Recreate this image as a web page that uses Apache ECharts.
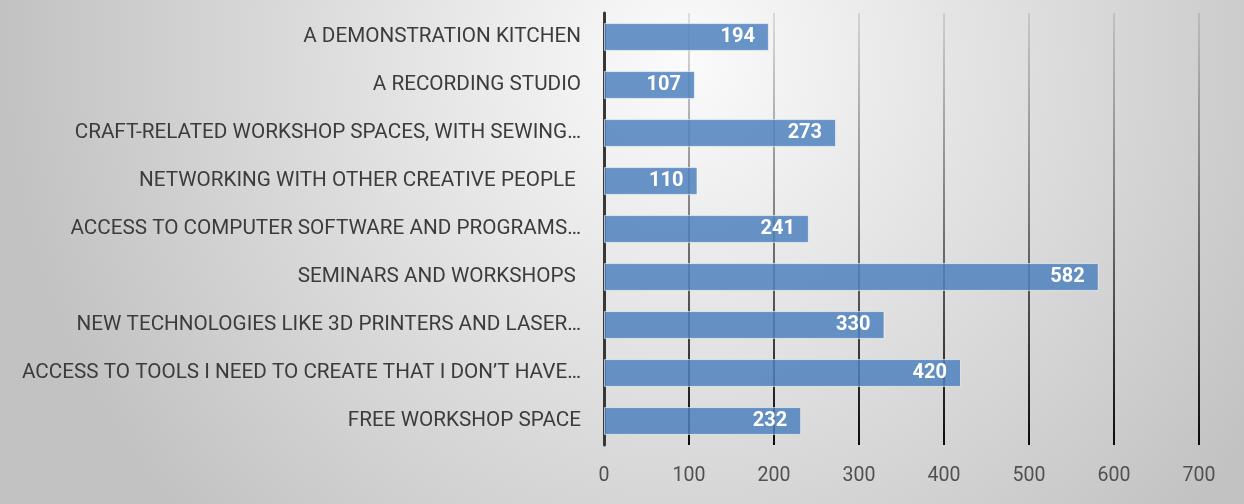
<!DOCTYPE html>
<html>
<head>
<meta charset="utf-8">
<script src="https://cdn.jsdelivr.net/npm/echarts@6/dist/echarts.min.js"></script>
<style>
html,body{margin:0;padding:0;}
#chart{width:1244px;height:504px;}
</style>
</head>
<body>
<div id="chart"></div>
<script>
var categories = [
  "A DEMONSTRATION KITCHEN",
  "A RECORDING STUDIO",
  "CRAFT-RELATED WORKSHOP SPACES, WITH SEWING…",
  "NETWORKING WITH OTHER CREATIVE PEOPLE ",
  "ACCESS TO COMPUTER SOFTWARE AND PROGRAMS…",
  "SEMINARS AND WORKSHOPS ",
  "NEW TECHNOLOGIES LIKE 3D PRINTERS AND LASER…",
  "ACCESS TO TOOLS I NEED TO CREATE THAT I DON’T HAVE…",
  "FREE WORKSHOP SPACE"
];
var values = [194, 107, 273, 110, 241, 582, 330, 420, 232];
var axisMin = 0, axisMax = 700, axisInterval = 100;

var chart = echarts.init(document.getElementById('chart'));
chart.setOption({
  animation: false,
  backgroundColor: {
    type: 'radial', x: 0.55, y: 0.12, r: 1.35,
    colorStops: [
      {offset: 0, color: '#fbfbfb'},
      {offset: 1, color: '#c2c2c2'}
    ]
  },
  grid: {left: 604, right: 45, top: 13, bottom: 59, containLabel: false},
  xAxis: {
    type: 'value', min: axisMin, max: axisMax, interval: axisInterval,
    axisLine: {show: false},
    axisTick: {show: false},
    axisLabel: {margin: 21, fontFamily: 'Roboto', fontSize: 19.5, color: '#505050'},
    splitLine: {
      show: true,
      lineStyle: {
        width: 2,
        color: {
          type: 'linear', x: 0, y: 13, x2: 0, y2: 445, global: true,
          colorStops: [
            {offset: 0, color: 'rgba(40,40,40,0.12)'},
            {offset: 1, color: 'rgba(0,0,0,0.95)'}
          ]
        }
      }
    }
  },
  yAxis: {
    type: 'category', data: categories, inverse: true,
    axisLine: {show: true, onZero: false, lineStyle: {color: '#383838', width: 3}},
    axisTick: {show: false},
    axisLabel: {margin: 23, fontFamily: 'Roboto', fontSize: 20.7, color: '#3c3c3c'},
    splitLine: {show: false}
  },
  series: [{
    type: 'bar',
    data: values,
    barWidth: '58%',
    itemStyle: {
      color: 'rgba(79,129,189,0.85)',
      borderColor: 'rgba(255,255,255,0.6)',
      borderWidth: 1
    },
    label: {
      show: true, position: 'insideRight', distance: 14,
      fontFamily: 'Roboto', fontWeight: 'bold', fontSize: 20, color: '#ffffff'
    },
    z: 3
  }]
});
</script>
</body>
</html>
